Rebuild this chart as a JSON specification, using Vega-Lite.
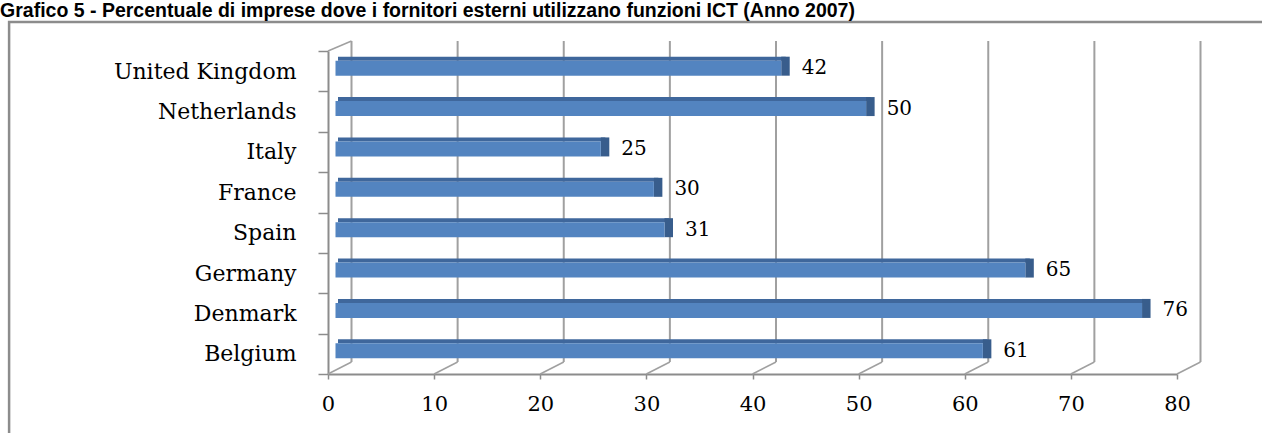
{
  "$schema": "https://vega.github.io/schema/vega-lite/v6.json",
  "width": 849,
  "height": 323,
  "autosize": {"type": "none"},
  "padding": {"left": 328, "top": 51, "right": 85, "bottom": 59},
  "background": "white",
  "config": {
    "view": {"stroke": null},
    "axisY": {
      "title": null,
      "labelFont": "DejaVu Serif",
      "labelFontSize": 22,
      "labelColor": "black",
      "labelPadding": 22,
      "labelLimit": 400,
      "tickSize": 10,
      "tickBand": "extent",
      "tickColor": "#8c8c8c",
      "tickWidth": 1.5,
      "domainColor": "#8c8c8c",
      "domainWidth": 2,
      "grid": false
    },
    "axisX": {
      "title": null,
      "labelFont": "DejaVu Serif",
      "labelFontSize": 21,
      "labelColor": "black",
      "labelBaseline": "top",
      "labelPadding": 14,
      "labelFlush": false,
      "tickSize": 5,
      "tickColor": "#8c8c8c",
      "tickWidth": 1.5,
      "domainColor": "#8c8c8c",
      "domainWidth": 2,
      "grid": false
    }
  },
  "datasets": {
    "paesi": [
      {"paese": "United Kingdom", "valore": 42},
      {"paese": "Netherlands", "valore": 50},
      {"paese": "Italy", "valore": 25},
      {"paese": "France", "valore": 30},
      {"paese": "Spain", "valore": 31},
      {"paese": "Germany", "valore": 65},
      {"paese": "Denmark", "valore": 76},
      {"paese": "Belgium", "valore": 61}
    ],
    "tacche": [
      {"t": 0}, {"t": 10}, {"t": 20}, {"t": 30}, {"t": 40},
      {"t": 50}, {"t": 60}, {"t": 70}, {"t": 80}
    ],
    "titolo": [
      {"testo": "Grafico 5 - Percentuale di imprese dove i fornitori esterni utilizzano funzioni ICT (Anno 2007)"}
    ],
    "uno": [{}]
  },
  "layer": [
    {
      "data": {"name": "uno"},
      "mark": {"type": "rect", "fill": null, "stroke": "#8c8c8c", "strokeWidth": 2.5},
      "encoding": {
        "x": {"datum": -30.05, "type": "quantitative", "scale": {"domain": [0, 80], "nice": false, "zero": true}},
        "x2": {"datum": 90},
        "y": {"datum": 1.09, "type": "quantitative", "scale": {"domain": [0, 1], "nice": false}, "axis": null},
        "y2": {"datum": -0.5}
      }
    },
    {
      "data": {"name": "titolo"},
      "mark": {"type": "text", "align": "left", "baseline": "alphabetic", "font": "Liberation Sans", "fontWeight": "bold", "fontSize": 19.5, "color": "black"},
      "encoding": {
        "x": {"datum": -30.9, "type": "quantitative", "scale": {"domain": [0, 80], "nice": false, "zero": true}},
        "y": {"datum": 1.105, "type": "quantitative", "scale": {"domain": [0, 1], "nice": false}, "axis": null},
        "text": {"field": "testo", "type": "nominal"}
      }
    },
    {
      "data": {"name": "tacche"},
      "mark": {"type": "rule", "color": "#a0a0a0", "strokeWidth": 2, "xOffset": 23.5, "x2Offset": 23.5, "yOffset": -12, "y2Offset": -10},
      "encoding": {
        "x": {"field": "t", "type": "quantitative", "scale": {"domain": [0, 80], "nice": false, "zero": true}},
        "y": {"datum": 0, "type": "quantitative", "scale": {"domain": [0, 1], "nice": false}, "axis": null},
        "y2": {"datum": 1}
      }
    },
    {
      "data": {"name": "tacche"},
      "mark": {"type": "rule", "color": "#a0a0a0", "strokeWidth": 1.5, "x2Offset": 23.5, "y2Offset": -12},
      "encoding": {
        "x": {"field": "t", "type": "quantitative", "scale": {"domain": [0, 80], "nice": false, "zero": true}},
        "x2": {"field": "t"},
        "y": {"datum": 0, "type": "quantitative", "scale": {"domain": [0, 1], "nice": false}, "axis": null},
        "y2": {"datum": 0}
      }
    },
    {
      "data": {"name": "uno"},
      "mark": {"type": "rule", "color": "#a0a0a0", "strokeWidth": 1.5, "x2Offset": 23.5, "y2Offset": -10},
      "encoding": {
        "x": {"datum": 0, "type": "quantitative", "scale": {"domain": [0, 80], "nice": false, "zero": true}},
        "x2": {"datum": 0},
        "y": {"datum": 1, "type": "quantitative", "scale": {"domain": [0, 1], "nice": false}, "axis": null},
        "y2": {"datum": 1}
      }
    },
    {
      "data": {"name": "paesi"},
      "encoding": {
        "y": {
          "field": "paese",
          "type": "nominal",
          "sort": ["United Kingdom", "Netherlands", "Italy", "France", "Spain", "Germany", "Denmark", "Belgium"],
          "scale": {"paddingInner": 0, "paddingOuter": 0}
        }
      },
      "layer": [
        {
          "mark": {"type": "bar", "size": 4, "yOffset": -12.5, "xOffset": 12, "x2Offset": 10, "color": "#3f679c"},
          "encoding": {
            "x": {"field": "valore", "type": "quantitative", "scale": {"domain": [0, 80], "nice": false, "zero": true}},
            "x2": {"datum": 0}
          }
        },
        {
          "mark": {"type": "bar", "size": 19, "yOffset": -5, "xOffset": 16, "x2Offset": 7.5, "color": "#385d8c"},
          "encoding": {
            "x": {"field": "valore", "type": "quantitative", "scale": {"domain": [0, 80], "nice": false, "zero": true}},
            "x2": {"field": "valore"}
          }
        },
        {
          "mark": {"type": "bar", "size": 15, "yOffset": -3, "xOffset": 7.5, "x2Offset": 7.5, "color": "#5384c0"},
          "encoding": {
            "x": {
              "field": "valore",
              "type": "quantitative",
              "scale": {"domain": [0, 80], "nice": false, "zero": true},
              "axis": {"values": [0, 10, 20, 30, 40, 50, 60, 70, 80]}
            },
            "x2": {"datum": 0}
          }
        },
        {
          "mark": {"type": "text", "align": "left", "baseline": "middle", "dx": 28, "dy": -3, "font": "DejaVu Serif", "fontSize": 20, "color": "black"},
          "encoding": {
            "x": {"field": "valore", "type": "quantitative", "scale": {"domain": [0, 80], "nice": false, "zero": true}},
            "text": {"field": "valore", "type": "quantitative"}
          }
        }
      ]
    }
  ],
  "resolve": {"scale": {"y": "independent"}}
}
